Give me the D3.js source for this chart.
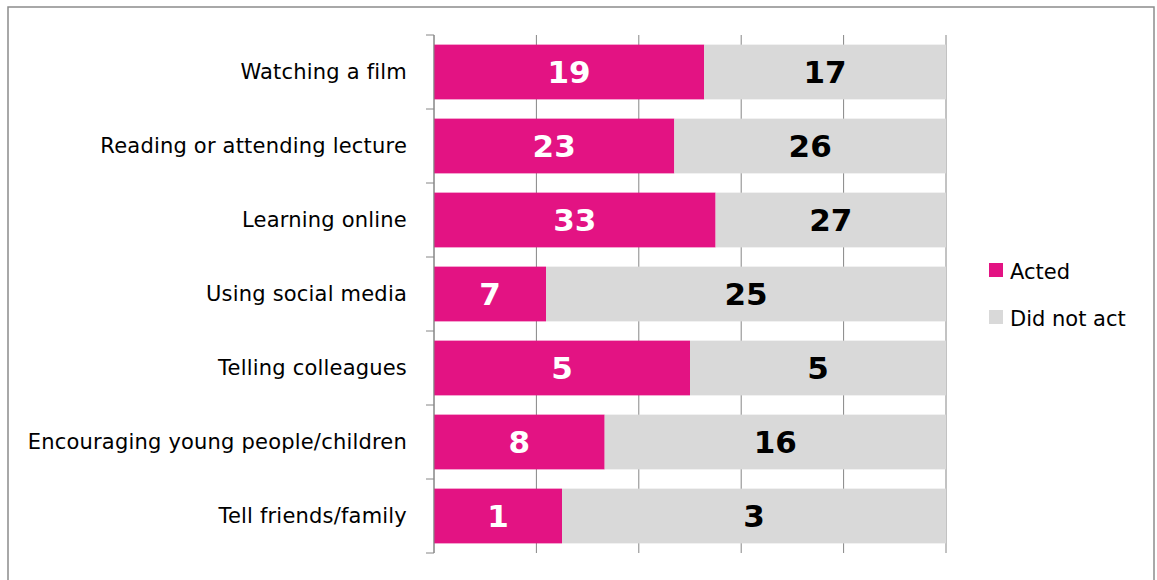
<!DOCTYPE html>
<html lang="en">
<head>
  <meta charset="UTF-8">
  <title>Acted vs did not act</title>
  <style>
    body { margin: 0; background: #fff; }
    svg { font-family: 'DejaVu Sans', Verdana, sans-serif; }
    .cat { font-size: 21px; fill: #000; letter-spacing: 0.2px; }
    .val { font-size: 31px; font-weight: bold; }
    .leg { font-size: 21px; fill: #000; }
  </style>
</head>
<body>
  <svg width="1157" height="580"></svg>
  <script src="https://cdn.jsdelivr.net/npm/d3@7/dist/d3.min.js"></script>
  <script>
    var categories = ['Watching a film', 'Reading or attending lecture', 'Learning online',
      'Using social media', 'Telling colleagues', 'Encouraging young people/children', 'Tell friends/family']
    var acted = [19, 23, 33, 7, 5, 8, 1]
    var didNotAct = [17, 26, 27, 25, 5, 16, 3]
    var seriesNames = ['Acted', 'Did not act']
    var colors = ['#e31383', '#d9d9d9']
    var gridTicks = [0, 0.2, 0.4, 0.6, 0.8, 1]

    var svg = d3.select('svg')

    // chart frame
    svg.append('rect')
      .attr('x', 8).attr('y', 7)
      .attr('width', 1146).attr('height', 600)
      .attr('fill', '#fff')
      .attr('stroke', '#8c8c8c')
      .attr('stroke-width', 1.5)

    var plotL = 434, plotR = 946, plotT = 35, plotB = 553

    var x = d3.scaleLinear().domain([0, 1]).range([plotL, plotR])
    var y = d3.scaleBand().domain(categories).range([plotT, plotB]).paddingInner(0.26).paddingOuter(0.13)
    var yb = d3.scaleBand().domain(categories).range([plotT, plotB])

    // gridlines
    svg.append('g')
      .selectAll('line')
      .data(gridTicks)
      .enter()
      .append('line')
      .attr('x1', function(d) { return x(d) })
      .attr('x2', function(d) { return x(d) })
      .attr('y1', plotT)
      .attr('y2', plotB)
      .attr('stroke', '#868686')
      .attr('stroke-width', 1)

    var rows = categories.map(function(c, i) {
      var total = acted[i] + didNotAct[i]
      return { cat: c, vals: [acted[i], didNotAct[i]], total: total }
    })

    var rowG = svg.selectAll('.row')
      .data(rows)
      .enter()
      .append('g')
      .attr('class', 'row')

    rowG.each(function(d) {
      var g = d3.select(this)
      var cum = 0
      d.vals.forEach(function(v, k) {
        var x0 = x(cum / d.total)
        var x1 = x((cum + v) / d.total)
        g.append('rect')
          .attr('x', x0)
          .attr('y', y(d.cat))
          .attr('width', x1 - x0)
          .attr('height', y.bandwidth())
          .attr('fill', colors[k])
        g.append('text')
          .attr('class', 'val')
          .attr('x', (x0 + x1) / 2)
          .attr('y', y(d.cat) + y.bandwidth() / 2)
          .attr('dy', '0.36em')
          .attr('text-anchor', 'middle')
          .attr('fill', k === 0 ? '#fff' : '#000')
          .text(v)
        cum += v
      })
    })

    // y axis
    var yAxis = svg.append('g')
      .attr('transform', 'translate(' + plotL + ',0)')
    yAxis.append('line')
      .attr('x1', 0).attr('x2', 0)
      .attr('y1', plotT).attr('y2', plotB)
      .attr('stroke', '#868686')
    yAxis.selectAll('.tk')
      .data(categories.concat(['end']))
      .enter()
      .append('line')
      .attr('x1', -8).attr('x2', 0)
      .attr('y1', function(d, i) { return i < categories.length ? yb(d) : plotB })
      .attr('y2', function(d, i) { return i < categories.length ? yb(d) : plotB })
      .attr('stroke', '#868686')

    svg.selectAll('.cat')
      .data(categories)
      .enter()
      .append('text')
      .attr('class', 'cat')
      .attr('x', 407)
      .attr('y', function(d) { return y(d) + y.bandwidth() / 2 })
      .attr('dy', '0.35em')
      .attr('text-anchor', 'end')
      .text(function(d) { return d })

    // legend
    var leg = svg.append('g')
    seriesNames.forEach(function(s, i) {
      leg.append('rect')
        .attr('x', 989)
        .attr('y', 263 + i * 47)
        .attr('width', 14)
        .attr('height', 14)
        .attr('fill', colors[i])
      leg.append('text')
        .attr('class', 'leg')
        .attr('x', 1010)
        .attr('y', 279 + i * 47)
        .text(s)
    })
  </script>
</body>
</html>
